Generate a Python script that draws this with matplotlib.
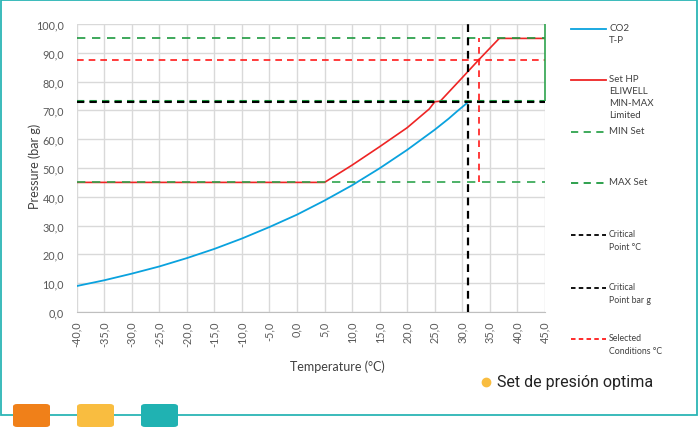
import numpy as np
import matplotlib.pyplot as plt
from matplotlib.lines import Line2D
from matplotlib.patches import FancyBboxPatch, Rectangle
from matplotlib.ticker import FuncFormatter

# datos
temp_co2 = [-40, -35, -30, -25, -20, -15, -10, -5, 0, 5, 10, 15, 20, 25, 27.5, 29, 31]
pres_co2 = [9.0, 11.0, 13.3, 15.8, 18.7, 21.9, 25.5, 29.5, 33.8, 38.7, 44.0, 49.9, 56.3, 63.3, 67.1, 69.6, 72.8]

temp_hp = [-40, 5, 10, 15, 20, 24, 25, 26, 30, 33, 36.7, 45]
pres_hp = [45, 45, 51.0, 57.4, 64.0, 70.5, 73.0, 73.2, 81.4, 87.6, 95, 95]

min_set = 45.0
max_set = 95.0
lim_set = 73.4
crit_temp = 31.0
crit_pres = 72.8
sel_temp = 33.0
sel_pres = 87.4

t_min, t_max = -40, 45
x_ticks = np.arange(-40, 46, 5)
y_ticks = np.arange(0, 101, 10)

c_blue = "#0AA2DE"
c_red = "#EE2424"
c_green = "#2FA44E"
c_green2 = "#1E9A40"
c_sel = "#FF1A1A"
c_teal = "#2BB5B5"

plt.rcParams['font.family'] = ['Lato', 'DejaVu Sans']

fig = plt.figure(figsize=(7, 4.31), dpi=100)
ax = fig.add_axes([76.5 / 700, 1 - 313 / 431, (545 - 76.5) / 700, (313 - 25) / 431])

ax.set_xlim(t_min, t_max)
ax.set_ylim(0, 100)
ax.set_xticks(x_ticks)
ax.set_yticks(y_ticks)
ax.grid(True, color="#D9D9D9", linewidth=1.0)
ax.set_axisbelow(True)
for s in ["top", "right", "left"]:
    ax.spines[s].set_visible(False)
ax.spines["bottom"].set_color("#BFBFBF")
ax.tick_params(length=0, colors="#595959", labelsize=7.8)
ax.tick_params(axis="x", rotation=90, pad=6)
ax.tick_params(axis="y", pad=9)
fmt = FuncFormatter(lambda v, p: f"{v:.1f}".replace(".", ","))
ax.xaxis.set_major_formatter(fmt)
ax.yaxis.set_major_formatter(fmt)

ax.set_xlabel("Temperature (°C)", fontsize=9, color="#404040")
ax.set_ylabel("Pressure (bar g)", fontsize=9, color="#404040")
ax.xaxis.set_label_coords(0.557, -0.165)
ax.yaxis.set_label_coords(-0.076, 0.51)

# curvas
ax.plot(temp_co2, pres_co2, color=c_blue, lw=1.3, zorder=4)
ax.plot(temp_hp, pres_hp, color=c_red, lw=1.2, zorder=4)

# lineas de referencia
ax.hlines(min_set, t_min, t_max, colors=c_green, lw=1.2, linestyles=(0, (5, 4)), zorder=5)
ax.hlines(max_set, t_min, t_max, colors=c_green2, lw=1.2, linestyles=(0, (5, 4)), zorder=5)
ax.hlines(lim_set, t_min, t_max, colors=c_green2, lw=1.5, linestyles=(0, (3.5, 2.5)), zorder=5)
ax.hlines(crit_pres, t_min, t_max, colors="black", lw=1.5, linestyles=(0, (3.5, 2.5)), zorder=5)
ax.hlines(sel_pres, t_min, t_max, colors=c_sel, lw=1.2, linestyles=(0, (4, 3)), zorder=5)
ax.vlines(sel_temp, min_set, max_set, colors=c_sel, lw=1.2, linestyles=(0, (4, 3)), zorder=5)
ax.vlines(crit_temp, 0, 100, colors="black", lw=1.6, linestyles=(0, (3.5, 2.5)), zorder=6)
ax.vlines(t_max, lim_set, 100, colors=c_green, lw=1.2, zorder=5, clip_on=False)

# leyenda
def px(x, y):
    return x / 700, 1 - y / 431

legend_items = [
    (30, "CO2\nT-P", c_blue, "-", 7),
    (81, "Set HP\nELIWELL\nMIN-MAX\nLimited", c_red, "-", 7),
    (133, "MIN Set", c_green, (0, (4, 3)), 7),
    (184, "MAX Set", c_green2, (0, (4, 3)), 7),
    (236, "Critical\nPoint °C", "black", (0, (2.5, 1.8)), 6.3),
    (289, "Critical\nPoint bar g", "black", (0, (2.5, 1.8)), 6.3),
    (340, "Selected\nConditions °C", c_sel, (0, (2.5, 1.8)), 6.3),
]
for y, lab, col, ls, fs in legend_items:
    x0, y0 = px(571, y)
    x1, _ = px(606, y)
    fig.add_artist(Line2D([x0, x1], [y0, y0], color=col, lw=1.3, linestyle=ls,
                          transform=fig.transFigure))
    tx, ty = px(609, y - 6)
    fig.text(tx, ty, lab, fontsize=fs, color="#404040", va="top", ha="left",
             linespacing=1.45 if fs > 6.5 else 1.55)

# marco y elementos decorativos
fig.add_artist(Rectangle(px(1, 416), 696 / 700, 415 / 431, fill=False,
                         edgecolor=c_teal, lw=1.3, transform=fig.transFigure))
for x, col in [(13, "#F08019"), (77, "#F9BD40"), (141, "#20B2B2")]:
    bx, by = px(x, 428)
    fig.add_artist(FancyBboxPatch((bx, by), 37 / 700, 23 / 431,
                                  boxstyle="round,pad=0,rounding_size=0.006",
                                  facecolor=col, edgecolor="none",
                                  transform=fig.transFigure))

dx, dy = px(486, 383)
fig.add_artist(Line2D([dx], [dy], marker="o", markersize=6, color="#F9BD40",
                      transform=fig.transFigure))
tx, ty = px(497, 383)
fig.text(tx, ty, "Set de presión optima", fontsize=11.5, color="#222222",
         va="center", ha="left", family=["Roboto", "DejaVu Sans"])

fig.savefig("out.png", dpi=100)
